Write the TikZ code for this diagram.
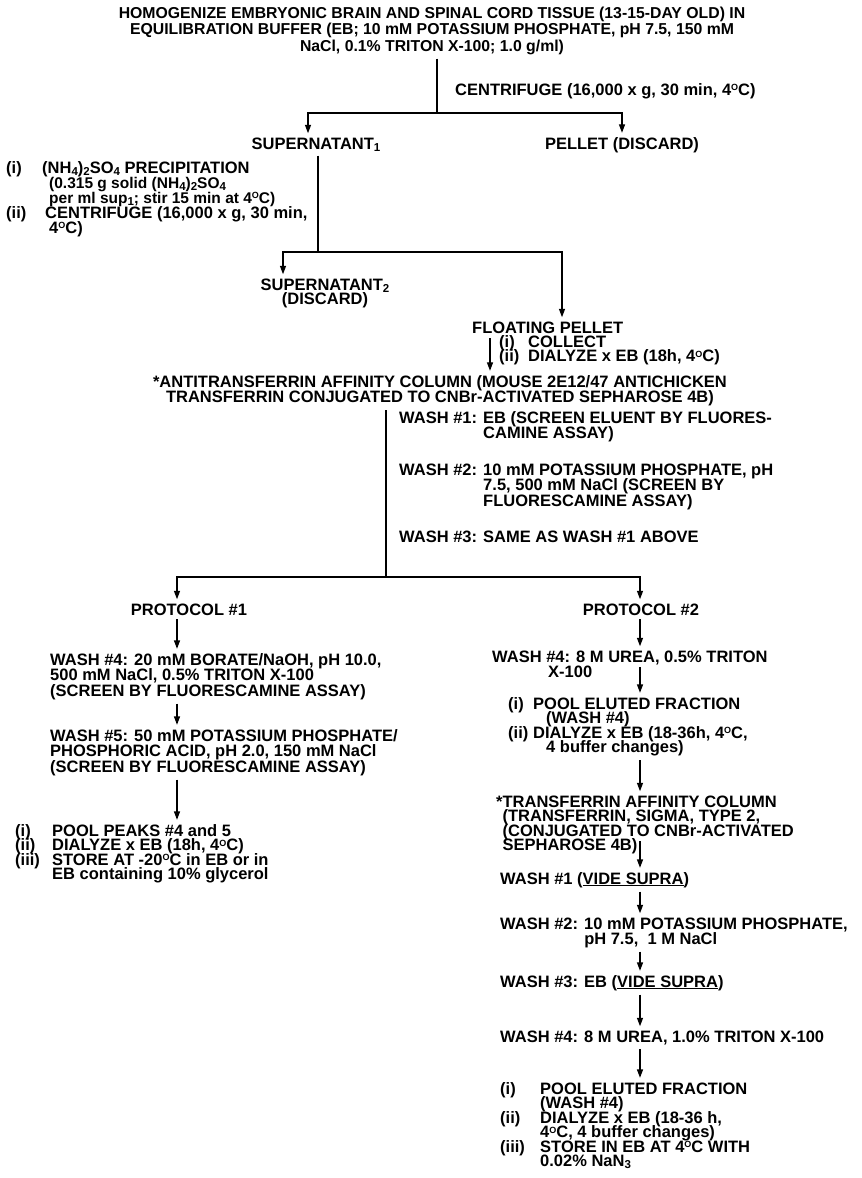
\documentclass[tikz,border=0pt]{standalone}
\usepackage{fontspec}
\setmainfont{Liberation Sans}
\usetikzlibrary{arrows.meta}
\newcommand{\dgo}{\raisebox{4.4pt}{\fontsize{9}{9}\selectfont O}}
\newcommand{\sbx}[1]{\raisebox{-2.4pt}{\fontsize{11.5}{11.5}\selectfont #1}}
\newcommand{\Lb}[2][14.5pt]{\vtop{\baselineskip=#1\lineskiplimit=-50pt\lineskip=0pt\halign{##\hfil\cr#2\crcr}}}
\newcommand{\Cb}[2][14.5pt]{\vtop{\baselineskip=#1\lineskiplimit=-50pt\lineskip=0pt\halign{\hfil##\hfil\cr#2\crcr}}}
\newcommand{\lab}[2]{\makebox[#1][l]{#2}}
\newcommand{\smf}{\fontsize{15.5}{14.5}\selectfont}
\tikzset{
  txt/.style={font=\fontsize{16.5}{14.5}\selectfont\bfseries, inner xsep=0pt, inner ysep=4pt, anchor=base west},
  ctxt/.style={txt, anchor=base},
  ttl/.style={ctxt, font=\fontsize{15.8}{16.5}\selectfont\bfseries},
  ln/.style={line width=1.3pt},
  arr/.style={ln, -{Triangle[length=8.5pt,width=6pt]}}
}
\begin{document}
\begin{tikzpicture}[x=1pt,y=-1pt]
\useasboundingbox (0,0) rectangle (862,1178);
% title
\node[ttl] (title) at (432,18) {\Cb[16.5pt]{HOMOGENIZE EMBRYONIC BRAIN AND SPINAL CORD TISSUE (13-15-DAY OLD) IN\cr EQUILIBRATION BUFFER (EB; 10 mM POTASSIUM PHOSPHATE, pH 7.5, 150 mM\cr NaCl, 0.1\% TRITON X-100; 1.0 g/ml)}};
\coordinate (j1) at (437,113);
\coordinate (a1) at (308,0);
\draw[ln] (title.south -| j1) -- (j1);
\node[txt] (cf1) at (455,95) {CENTRIFUGE (16,000 x g, 30 min, 4\dgo C)};
\node[ctxt] (sup1) at (316,149) {SUPERNATANT\sbx{1}};
\node[ctxt] (pel) at (622,149) {PELLET (DISCARD)};
\draw[arr] (j1) -| (sup1.north -| a1);
\draw[arr] (j1) -| (pel.north);
% ammonium sulfate
\node[txt] (ppt) at (6,173) {\Lb[15pt]{\lab{36pt}{(i)}(NH\sbx{4})\sbx{2}SO\sbx{4} PRECIPITATION\cr
\hspace*{43pt}{\smf(0.315 g solid (NH\sbx{4})\sbx{2}SO\sbx{4}}\cr
\hspace*{43pt}{\smf per ml sup\sbx{1}; stir 15 min at 4\dgo C)}\cr
\lab{36pt}{(ii)}\hspace*{3pt}CENTRIFUGE (16,000 x g, 30 min,\cr
\hspace*{43pt}4\dgo C)}};
\coordinate (j2) at (318,252);
\coordinate (a2) at (283,0);
\coordinate (a3) at (562,0);
\draw[ln] (sup1.south -| j2) -- (j2);
\node[ctxt] (sup2) at (325,290) {\Cb[14.8pt]{SUPERNATANT\sbx{2}\cr (DISCARD)}};
\node[txt] (flo) at (472,333) {\Lb[14.3pt]{FLOATING PELLET\cr \hspace*{27pt}\lab{29pt}{(i)}COLLECT\cr \hspace*{27pt}\lab{29pt}{(ii)}DIALYZE x EB (18h, 4\dgo C)}};
\draw[arr] (j2) -| (sup2.north -| a2);
\draw[arr] (j2) -| (flo.north -| a3);
% antitransferrin column
\coordinate (s4) at (490,338);
\node[ctxt] (anti) at (440,387) {\Cb[15.5pt]{*ANTITRANSFERRIN AFFINITY COLUMN (MOUSE 2E12/47 ANTICHICKEN\cr TRANSFERRIN CONJUGATED TO CNBr-ACTIVATED SEPHAROSE 4B)}};
\draw[arr] (s4) -- (anti.north -| s4);
\coordinate (j3) at (386,577);
\draw[ln] (anti.south -| j3) -- (j3);
\node[txt] (wa1) at (399,423) {\Lb[15.5pt]{WASH \#1: EB (SCREEN ELUENT BY FLUORES-\cr \phantom{WASH \#1: }CAMINE ASSAY)}};
\node[txt] (wa2) at (399,475) {\Lb[15.5pt]{WASH \#2: 10 mM POTASSIUM PHOSPHATE, pH\cr \phantom{WASH \#2: }7.5, 500 mM NaCl (SCREEN BY\cr \phantom{WASH \#2: }FLUORESCAMINE ASSAY)}};
\node[txt] (wa3) at (399,542) {WASH \#3: SAME AS WASH \#1 ABOVE};
% protocols
\coordinate (b1) at (177,0);
\coordinate (b2) at (640,0);
\node[ctxt] (pr1) at (189,615) {PROTOCOL \#1};
\node[ctxt] (pr2) at (641,615) {PROTOCOL \#2};
\draw[arr] (j3) -| (pr1.north -| b1);
\draw[arr] (j3) -| (pr2.north -| b2);
% protocol 1
\node[txt] (w4l) at (50,665) {\Lb[15.5pt]{WASH \#4: 20 mM BORATE/NaOH, pH 10.0,\cr 500 mM NaCl, 0.5\% TRITON X-100\cr (SCREEN BY FLUORESCAMINE ASSAY)}};
\node[txt] (w5l) at (50,741) {\Lb[15.5pt]{WASH \#5: 50 mM POTASSIUM PHOSPHATE/\cr PHOSPHORIC ACID, pH 2.0, 150 mM NaCl\cr (SCREEN BY FLUORESCAMINE ASSAY)}};
\node[txt] (fin1) at (15,836) {\Lb[14.5pt]{\lab{37pt}{(i)}POOL PEAKS \#4 and 5\cr \lab{37pt}{(ii)}DIALYZE x EB (18h, 4\dgo C)\cr \lab{37pt}{(iii)}STORE AT -20\dgo C in EB or in\cr \hspace*{37pt}EB containing 10\% glycerol}};
\draw[arr] (pr1.south -| b1) -- (w4l.north -| b1);
\draw[arr] (w4l.south -| b1) -- (w5l.north -| b1);
\draw[arr] (w5l.south -| b1) -- (fin1.north -| b1);
% protocol 2
\node[txt] (w4r) at (492,662) {\Lb[15pt]{WASH \#4: 8 M UREA, 0.5\% TRITON\cr \hspace*{56pt}X-100}};
\coordinate (s6) at (640,667);
\node[txt] (pool1) at (508,709) {\Lb[14.5pt]{\lab{25pt}{(i)}POOL ELUTED FRACTION\cr \hspace*{38pt}(WASH \#4)\cr \lab{25pt}{(ii)}DIALYZE x EB (18-36h, 4\dgo C,\cr \hspace*{38pt}4 buffer changes)}};
\node[txt] (tf) at (496,807) {\Lb[14.5pt]{*TRANSFERRIN AFFINITY COLUMN\cr \phantom{*}(TRANSFERRIN, SIGMA, TYPE 2,\cr \phantom{*}(CONJUGATED TO CNBr-ACTIVATED\cr \phantom{*}SEPHAROSE 4B)}};
\coordinate (s7) at (640,841);
\node[txt] (wv1) at (500,884) {WASH \#1 (\underline{VIDE SUPRA})};
\node[txt] (wv2) at (500,929) {\Lb[15pt]{WASH \#2: 10 mM POTASSIUM PHOSPHATE,\cr \phantom{WASH \#2: }pH 7.5,\ \ 1 M NaCl}};
\node[txt] (wv3) at (500,987) {WASH \#3: EB (\underline{VIDE SUPRA})};
\node[txt] (wv4) at (500,1042) {WASH \#4: 8 M UREA, 1.0\% TRITON X-100};
\node[txt] (fin2) at (500,1094) {\Lb[14.5pt]{\lab{40pt}{(i)}POOL ELUTED FRACTION\cr \hspace*{40pt}(WASH \#4)\cr \lab{40pt}{(ii)}DIALYZE x EB (18-36 h,\cr \hspace*{40pt}4\dgo C, 4 buffer changes)\cr \lab{40pt}{(iii)}STORE IN EB AT 4\dgo C WITH\cr \hspace*{40pt}0.02\% NaN\sbx{3}}};
\draw[arr] (pr2.south -| b2) -- (w4r.north -| b2);
\draw[arr] (s6) -- (pool1.north -| s6);
\draw[arr] (pool1.south -| b2) -- (tf.north -| b2);
\draw[arr] (s7) -- (wv1.north -| s7);
\draw[arr] (wv1.south -| b2) -- (wv2.north -| b2);
\draw[arr] (wv2.south -| b2) -- (wv3.north -| b2);
\draw[arr] (wv3.south -| b2) -- (wv4.north -| b2);
\draw[arr] (wv4.south -| b2) -- (fin2.north -| b2);
\end{tikzpicture}
\end{document}
